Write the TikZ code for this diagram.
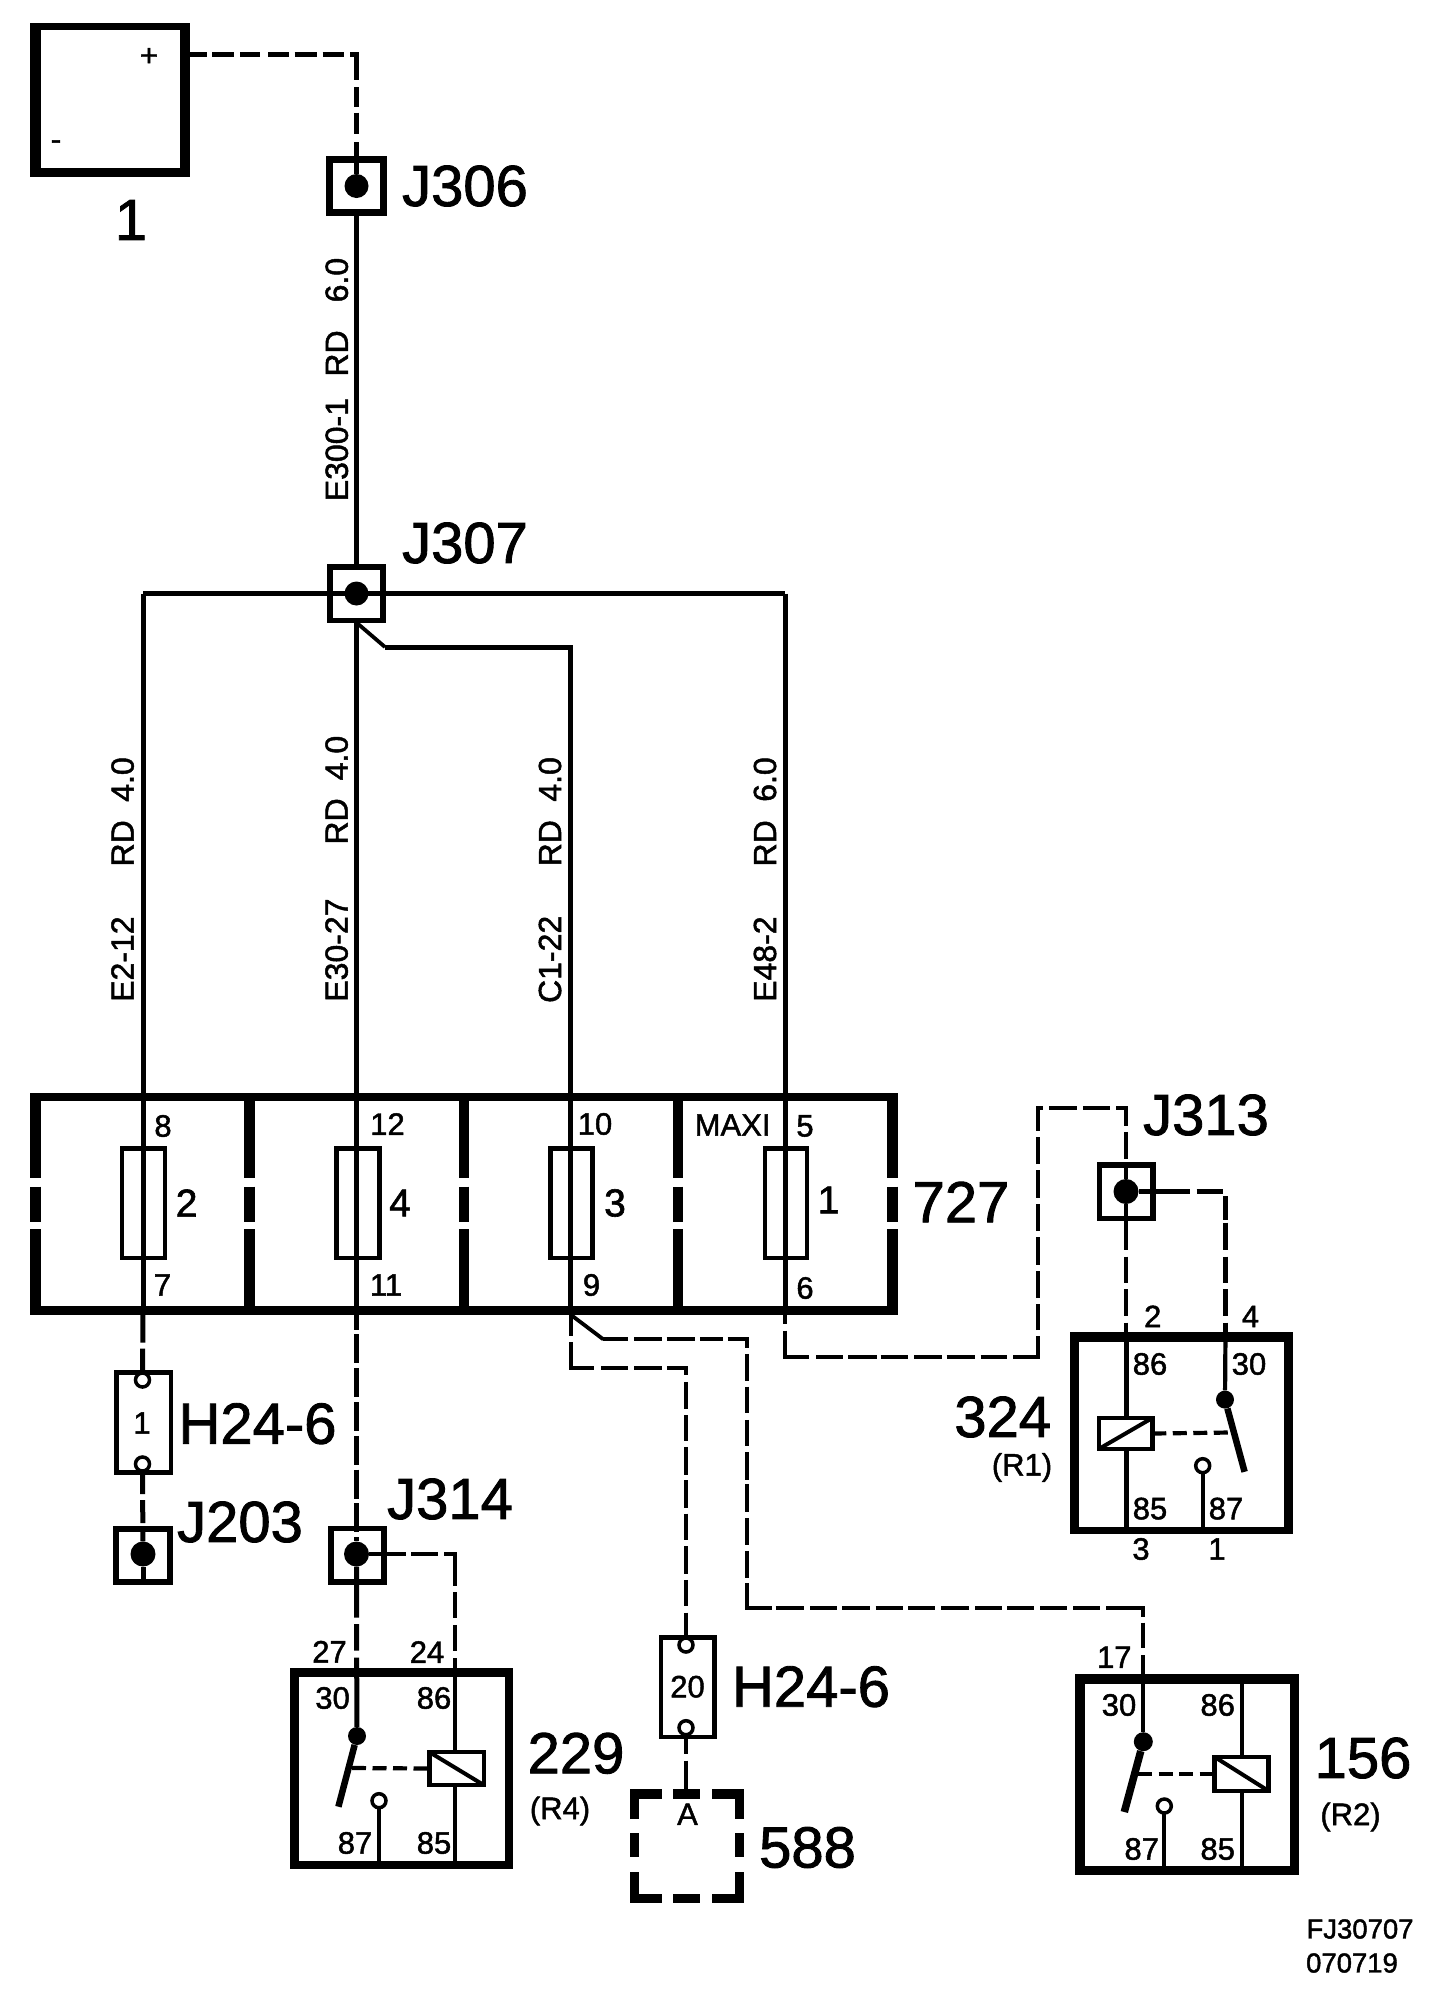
\documentclass[tikz,border=0pt]{standalone}
\usepackage{fontspec}
\setmainfont{Liberation Sans}[FakeBold=1.5]
\tikzset{
  x=1pt,y=-1pt,
  wire/.style={line width=5pt,black},
  wirer/.style={line width=4.2pt,black},
  thin wire/.style={line width=3.8pt,black},
  dwire/.style={wirer,dash pattern=on 27.5pt off 6pt},
  ctrl/.style={line width=4.2pt,dash pattern=on 14pt off 6.5pt},
  arm/.style={line width=6.5pt},
  bar/.style={line width=10.5pt},
  framebox/.style={draw,rectangle,inner sep=0pt,outer sep=0pt},
  dot/.style={circle,fill=black,inner sep=0pt,minimum size=#1},
  pin/.style={circle,draw,line width=3.5pt,inner sep=0pt,minimum size=14pt,outer sep=0pt},
  big/.style={inner sep=0pt,font=\fontsize{58}{60}\selectfont},
  mid/.style={inner sep=0pt,font=\fontsize{39}{40}\selectfont},
  small/.style={inner sep=0pt,font=\fontsize{31}{32}\selectfont},
  tiny/.style={inner sep=0pt,font=\fontsize{27.5}{28}\selectfont},
  wirelab/.style={inner sep=0pt,rotate=90,font=\fontsize{32}{33}\selectfont},
}
\begin{document}
\begin{tikzpicture}
\useasboundingbox (0,0) rectangle (1456,2000);
% boxes
\node[framebox,line width=7pt,minimum width=153pt,minimum height=147pt] (b1) at (110,100) {};
\fill (30,23) rectangle (41,177);
\fill (180,23) rectangle (190,177);
\fill (30,168) rectangle (190,177);
\coordinate (b1p) at (190,54.5);
\coordinate (b1c) at (356.5,54.5);
\node[small] (plus) at (149,57) {+};
\node[small] (minus) at (56,145) {-};
\node[big] (lab1) at (131,220) {1};
% junctions
\node[framebox,line width=7pt,minimum width=53.5pt,minimum height=53pt] (j306) at (356.5,186) {};
\node[framebox,line width=5.5pt,minimum width=53pt,minimum height=53.5pt] (j307) at (356.5,593.5) {};
\node[framebox,line width=5.5pt,minimum width=53.5pt,minimum height=53.5pt] (j313) at (1126,1191.5) {};
\node[framebox,line width=5.5pt,minimum width=53pt,minimum height=53.5pt] (j314) at (357.5,1555.3) {};
\node[framebox,line width=6pt,minimum width=54.5pt,minimum height=53pt] (j203) at (143,1555.5) {};
\node[dot=24pt] (d306) at (356.5,186) {};
\node[dot=24pt] (d307) at (356.5,593.5) {};
\node[dot=25pt] (d313) at (1126,1191.5) {};
\node[dot=25pt] (d314) at (356.5,1554) {};
\node[dot=25pt] (d203) at (143,1554) {};
\node[big] (l306) at (465,186) {J306};
\node[big] (l307) at (465,543) {J307};
\node[big] (l313) at (1206,1115) {J313};
\node[big] (l314) at (450,1499) {J314};
\node[big] (l203) at (240,1522) {J203};
% top wires
\draw[wire,dash pattern=on 16.6pt off 5.4pt on 21.5pt off 6.5pt on 20pt off 8pt on 21pt off 5.7pt on 22.3pt off 5.6pt on 21.8pt off 5.6pt on 32pt off 7pt on 20pt off 5.5pt on 21.5pt off 8pt on 60pt off 1pt] (b1p) -- (b1c) -- (d306);
\draw[wire] (j306) -- (j307);
\coordinate (w1) at (143,593.5);
\coordinate (w4) at (785,593.5);
\coordinate (p7) at (143,1314.6);
\coordinate (p11) at (356.5,1314.6);
\coordinate (p9) at (570.6,1314.6);
\coordinate (p6) at (785,1314.6);
\coordinate (d1) at (385,647);
\coordinate (d2) at (570.6,647);
\draw[wire] (w1) -- (w4);
\draw[wire] (w1) -- (p7);
\draw[wire] (j307) -- (p11);
\draw[thin wire] (357,623) -- (d1);
\draw[wire] (d1) -- (d2) -- (p9);
\draw[wire] (w4) -- (p6);
% wire labels
\node[wirelab] (t1) at (336.8,379.5) {E300-1\hspace{21.5pt}RD\hspace{28pt}6.0};
\node[wirelab] (t2) at (122.6,879.5) {E2-12\hspace{50pt}RD\hspace{18.5pt}4.0};
\node[wirelab] (t3) at (336.6,868.7) {E30-27\hspace{54pt}RD\hspace{18pt}4.0};
\node[wirelab] (t4) at (550,880) {C1-22\hspace{49.5pt}RD\hspace{18.5pt}4.0};
\node[wirelab] (t5) at (765,879.5) {E48-2\hspace{50pt}RD\hspace{18.5pt}6.0};
% panel 727
\node[minimum width=868pt,minimum height=222pt,inner sep=0pt] (p727) at (464,1203.5) {};
\draw[line width=8.2pt] (30,1096.6) -- (898,1096.6);
\draw[line width=8.6pt] (30,1310.3) -- (898,1310.3);
\foreach \x in {35.5,249.5,464,678,892.7}{
  \draw[bar] (\x,1096) -- (\x,1178);
  \draw[bar] (\x,1186.5) -- (\x,1222);
  \draw[bar] (\x,1229) -- (\x,1310);
}
\node[framebox,line width=4.5pt,minimum width=43pt,minimum height=109.5pt] (f2) at (143.3,1203) {};
\node[framebox,line width=4.5pt,minimum width=43pt,minimum height=109.5pt] (f4) at (358,1203) {};
\node[framebox,line width=4.5pt,minimum width=42pt,minimum height=109.5pt] (f3) at (571.6,1203) {};
\node[framebox,line width=4.5pt,minimum width=42pt,minimum height=109.5pt] (f1) at (786,1203) {};
\node[small] (n8) at (163,1126) {8};
\node[small] (n12) at (387.5,1124) {12};
\node[small] (n10) at (595,1124) {10};
\node[small] (nmaxi) at (732.6,1125) {MAXI};
\node[small] (n5) at (805,1126) {5};
\node[small] (n7) at (162.5,1285) {7};
\node[small] (n11) at (386,1285) {11};
\node[small] (n9) at (591.5,1285) {9};
\node[small] (n6) at (805,1288) {6};
\node[mid] (nf2) at (186.6,1203) {2};
\node[mid] (nf4) at (400,1203) {4};
\node[mid] (nf3) at (615,1203) {3};
\node[mid] (nf1) at (828.6,1200) {1};
\node[big] (l727) at (961,1202) {727};
% H24-6 left
\node[framebox,line width=4.5pt,minimum width=54.5pt,minimum height=100pt] (h1) at (143.5,1422.3) {};
\node[pin] (h1a) at (142.5,1380) {};
\node[pin] (h1b) at (142.5,1464) {};
\node[small] (h1n) at (142,1423) {1};
\node[big] (h1l) at (257.5,1423.7) {H24-6};
\draw[wire,dash pattern=on 28pt off 6pt] (p7) -- (h1a.north);
\draw[wire,dash pattern=on 23pt off 6pt] (h1b.south) -- (d203);
\draw[wire] (d203) -- (j203.south);
% J314
\draw[wire,dash pattern=on 29pt off 4.8pt,dash phase=14pt] (p11) -- (d314);
\coordinate (r229a) at (356.7,1668);
\coordinate (r229b) at (455,1668);
\coordinate (c314) at (455,1554);
\draw[wire,dash pattern=on 51pt off 6.5pt on 26.3pt off 7pt on 200pt off 1pt] (d314) -- (r229a);
\draw[wirer,dash pattern=on 37pt off 5pt on 27pt off 6pt on 43pt off 6pt on 26pt off 6.7pt on 26.3pt off 7pt on 200pt off 1pt] (d314) -- (c314) -- (r229b);
% relay 229
\node[framebox,line width=8.5pt,minimum width=214.5pt,minimum height=192.5pt] (r229) at (401.5,1768.5) {};
\node[framebox,line width=4.5pt,minimum width=54.5pt,minimum height=33pt] (c229) at (456.5,1768.5) {};
\node[dot=18pt] (k229) at (357,1736) {};
\coordinate (e229) at (338.4,1806.7);
\coordinate (t229) at (352,1768);
\node[pin] (o229) at (379,1800.7) {};
\draw[wire] (r229a) -- (k229);
\draw[arm] (k229) -- (e229);
\draw[wirer] (r229b) -- (455,1750);
\draw[wirer] (455,1787) -- (455,1869);
\draw[line width=4pt] (c229.north west) -- (c229.south east);
\draw[ctrl] (t229) -- (c229.west);
\draw[wirer] (o229.south) -- (379,1869);
\node[small] (a27) at (329.5,1651.7) {27};
\node[small] (a24) at (427,1652) {24};
\node[small] (a30) at (332.6,1698) {30};
\node[small] (a86) at (434,1698) {86};
\node[small] (a87) at (355,1843) {87};
\node[small] (a85) at (434,1843) {85};
\node[big] (l229) at (576,1753.3) {229};
\node[small] (l229b) at (560,1811) {(R4)};
% branch at 9
\coordinate (g1) at (570.6,1368.3);
\coordinate (g2) at (686,1368.3);
\node[framebox,line width=4.5pt,minimum width=53.5pt,minimum height=99.5pt] (h2) at (687.5,1687) {};
\node[pin] (h2a) at (686,1645) {};
\node[pin] (h2b) at (686,1727.7) {};
\node[small] (h2n) at (687.5,1686.7) {20};
\node[big] (h2l) at (811,1686.7) {H24-6};
\draw[wirer,dash pattern=on 21.4pt off 6.3pt on 49.8pt off 6.7pt on 26.7pt off 6.3pt on 27.7pt off 5pt on 25.7pt off 7pt on 26.7pt off 6.6pt on 25.7pt off 6pt on 28pt off 5.3pt on 27.4pt off 6pt on 26.6pt off 6pt on 28pt off 5.7pt on 26.3pt off 6.4pt on 40pt off 1pt] (p9) -- (g1) -- (g2) -- (h2a.north);
% 588
\node[minimum width=105pt,minimum height=105pt,inner sep=0pt] (n588) at (686,1846.4) {};
\begin{scope}[line width=9.2pt]
\draw (634.6,1819) -- (634.6,1794) -- (661.6,1794);
\draw (712,1794) -- (739.4,1794) -- (739.4,1819);
\draw (634.6,1872) -- (634.6,1898.7) -- (661.6,1898.7);
\draw (712,1898.7) -- (739.4,1898.7) -- (739.4,1872);
\draw (673,1794) -- (700,1794);
\draw (673,1898.7) -- (700,1898.7);
\draw (634.6,1833) -- (634.6,1857);
\draw (739.4,1833) -- (739.4,1857);
\end{scope}
\draw[wirer,dash pattern=on 19pt off 7pt on 30pt off 1pt] (h2b.south) -- (n588.north);
\node[small] (a588) at (687.5,1814.3) {A};
\node[big] (l588) at (807.5,1847.5) {588};
% branch to 156
\coordinate (m1) at (603.3,1339.3);
\coordinate (m2) at (746.9,1339.3);
\coordinate (m3) at (746.9,1608.3);
\coordinate (m4) at (1143.3,1608.3);
\coordinate (r156a) at (1143.3,1674);
\draw[thin wire] (p9) -- (m1);
\draw[wirer,dash pattern=on 24.4pt off 6.3pt on 27.7pt off 5pt on 28.3pt off 5pt on 23.3pt off 4.4pt on 28pt off 5.7pt on 26.7pt off 6pt on 26.6pt off 6.7pt on 26pt off 6.3pt on 27.7pt off 4pt on 28.3pt off 6pt on 26.7pt off 6pt on 27.3pt off 5pt on 50pt off 4pt on 28.6pt off 5.7pt on 26.7pt off 5.6pt on 27.7pt off 5.7pt on 27.6pt off 5pt on 26.7pt off 6pt on 28pt off 6pt on 26.7pt off 5.6pt on 27pt off 5.7pt on 26.7pt off 6.6pt on 26.7pt off 6pt on 45.7pt off 6pt on 25.6pt off 6.7pt on 30pt off 1pt] (m1) -- (m2) -- (m3) -- (m4) -- (r156a);
% relay 156
\node[framebox,line width=9.5pt,minimum width=214.5pt,minimum height=191.5pt] (r156) at (1187,1774.5) {};
\node[framebox,line width=4.5pt,minimum width=54pt,minimum height=34pt] (c156) at (1241.7,1774) {};
\node[dot=19pt] (k156) at (1143.3,1741.7) {};
\coordinate (e156) at (1124.3,1812);
\coordinate (t156) at (1138,1774);
\node[pin] (o156) at (1164.3,1806) {};
\draw[wirer] (r156a) -- (k156);
\draw[line width=7.5pt] (k156) -- (e156);
\draw[wirer] (1242,1674) -- (1242,1755);
\draw[wirer] (1242,1793) -- (1242,1875);
\draw[line width=4pt] (c156.north west) -- (c156.south east);
\draw[ctrl] (t156) -- (c156.west);
\draw[wirer] (o156.south) -- (1164.3,1875);
\node[small] (b17) at (1114.3,1657.3) {17};
\node[small] (b30) at (1119,1705) {30};
\node[small] (b86) at (1217.7,1705) {86};
\node[small] (b87) at (1141.7,1849) {87};
\node[small] (b85) at (1217.7,1849) {85};
\node[big] (l156) at (1363,1758) {156};
\node[small] (l156b) at (1350.5,1817) {(R2)};
% wire 6 to J313
\coordinate (q1) at (785,1356.7);
\coordinate (q2) at (1038.3,1356.7);
\coordinate (q3) at (1038.3,1108);
\coordinate (q4) at (1126,1108);
\coordinate (r324a) at (1126,1332);
\coordinate (r324b) at (1225.5,1332);
\coordinate (q5) at (1225.5,1191.5);
\draw[wirer,dash pattern=on 9.4pt off 6.7pt on 50.3pt off 6.7pt on 26.7pt off 5.6pt on 28.4pt off 4pt on 27.6pt off 5.7pt on 27.7pt off 5pt on 28.3pt off 5.7pt on 26.6pt off 6pt on 45.7pt off 6pt on 26pt off 6pt on 27.5pt off 6pt on 27.5pt off 6pt on 27.5pt off 6pt on 27.5pt off 6pt on 27.5pt off 6pt on 27.5pt off 6pt on 27.5pt off 6pt on 27.5pt off 6pt on 27.5pt off 6pt on 27.5pt off 6pt on 27.5pt off 6pt] (p6) -- (q1) -- (q2) -- (q3) -- (q4) -- (d313);
\draw[wirer,dash pattern=on 45.8pt off 6.7pt on 26pt off 6.7pt on 26.6pt off 6.7pt on 60pt off 1pt] (d313) -- (r324a);
\draw[wirer,dash pattern=on 51pt off 7pt on 26.7pt off 6.6pt on 23.5pt off 3pt on 27.3pt off 6.7pt on 26pt off 6.7pt on 26.6pt off 6.7pt on 60pt off 1pt] (d313) -- (q5) -- (r324b);
% relay 324
\node[framebox,line width=7pt,minimum width=216.4pt,minimum height=194.6pt] (r324) at (1181.3,1432.8) {};
\fill (1069.6,1332) rectangle (1078.6,1533.6);
\fill (1284,1332) rectangle (1293,1533.6);
\fill (1069.6,1332) rectangle (1293,1342);
\node[framebox,line width=4.5pt,minimum width=53.5pt,minimum height=31pt] (c324) at (1125.5,1433.5) {};
\node[dot=18pt] (k324) at (1225,1399.6) {};
\coordinate (e324) at (1244.6,1471.8);
\coordinate (t324) at (1230,1432.5);
\node[pin] (o324) at (1202.7,1465.7) {};
\draw[wirer] (r324b) -- (k324);
\draw[arm] (k324) -- (e324);
\draw[wire] (r324a) -- (1126,1416);
\draw[wire] (1126,1451) -- (1126,1533);
\draw[line width=4pt] (c324.south west) -- (c324.north east);
\draw[ctrl] (c324.east) -- (t324);
\draw[wirer] (o324.south) -- (1202.7,1533);
\node[small] (c2) at (1152.7,1316.4) {2};
\node[small] (c4) at (1250.4,1316.4) {4};
\node[small] (c86) at (1150,1364) {86};
\node[small] (c30) at (1249,1364) {30};
\node[small] (c85) at (1150,1508.6) {85};
\node[small] (c87) at (1226,1508.6) {87};
\node[small] (c3) at (1141,1549) {3};
\node[small] (c1) at (1217,1549) {1};
\node[big] (l324) at (1002.7,1417) {324};
\node[small] (l324b) at (1022,1467.5) {(R1)};
% code
\node[tiny] (code1) at (1360,1929) {FJ30707};
\node[tiny] (code2) at (1352,1963) {070719};
\end{tikzpicture}
\end{document}
